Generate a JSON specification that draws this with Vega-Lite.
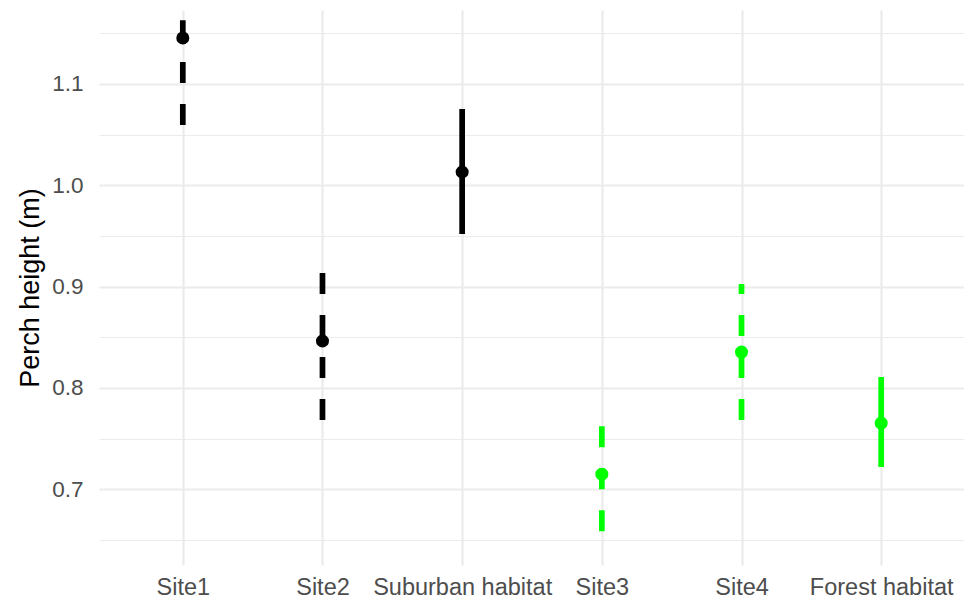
{
  "$schema": "https://vega.github.io/schema/vega-lite/v6.json",
  "width": 866,
  "height": 555,
  "autosize": {"type": "none"},
  "padding": {"left": 99, "top": 10, "right": 0, "bottom": 38},
  "background": "white",
  "config": {"view": {"stroke": null}, "font": "Liberation Sans"},
  "data": {
    "values": [
      {"site": "Site1", "habitat": "Suburban", "kind": "Site", "mean": 1.1454, "lower": 1.0595, "upper": 1.163},
      {"site": "Site2", "habitat": "Suburban", "kind": "Site", "mean": 0.8463, "lower": 0.7683, "upper": 0.9133},
      {"site": "Suburban habitat", "habitat": "Suburban", "kind": "Habitat", "mean": 1.0131, "lower": 0.9519, "upper": 1.0753},
      {"site": "Site3", "habitat": "Forest", "kind": "Site", "mean": 0.7148, "lower": 0.6585, "upper": 0.7624},
      {"site": "Site4", "habitat": "Forest", "kind": "Site", "mean": 0.8354, "lower": 0.7683, "upper": 0.9026},
      {"site": "Forest habitat", "habitat": "Forest", "kind": "Habitat", "mean": 0.7653, "lower": 0.7219, "upper": 0.8108}
    ]
  },
  "encoding": {
    "x": {
      "field": "site",
      "type": "nominal",
      "sort": ["Site1", "Site2", "Suburban habitat", "Site3", "Site4", "Forest habitat"],
      "scale": {"type": "point", "padding": 0.6},
      "axis": {
        "title": null,
        "labelAngle": 0,
        "grid": true,
        "gridColor": "#EBEBEB",
        "gridWidth": 2.2,
        "ticks": false,
        "domain": false,
        "labelFontSize": 23.5,
        "labelColor": "#4D4D4D",
        "labelPadding": 10
      }
    },
    "color": {
      "field": "habitat",
      "type": "nominal",
      "scale": {"domain": ["Suburban", "Forest"], "range": ["#000000", "#00FF00"]},
      "legend": null
    }
  },
  "layer": [
    {
      "mark": {"type": "rule", "strokeWidth": 5.7},
      "encoding": {
        "y": {
          "field": "lower",
          "type": "quantitative",
          "scale": {"domain": [0.6252, 1.173], "nice": false, "zero": false},
          "axis": {
            "values": [0.65, 0.7, 0.75, 0.8, 0.85, 0.9, 0.95, 1.0, 1.05, 1.1, 1.15],
            "labelExpr": "abs((datum.value*20) % 2 - 1) < 0.01 ? '' : format(datum.value, '.1f')",
            "grid": true,
            "gridColor": "#EBEBEB",
            "gridWidth": {"condition": {"test": "abs((datum.value*20) % 2 - 1) < 0.01", "value": 1.2}, "value": 2.2},
            "ticks": false,
            "domain": false,
            "labelFontSize": 22.5,
            "labelColor": "#4D4D4D",
            "labelPadding": 16,
            "title": "Perch height (m)",
            "titleFontSize": 27,
            "titleFontWeight": "normal",
            "titleColor": "#000000",
            "titlePadding": 7
          }
        },
        "y2": {"field": "upper"},
        "strokeDash": {
          "field": "kind",
          "type": "nominal",
          "scale": {"domain": ["Site", "Habitat"], "range": [[21, 21], [1, 0]]},
          "legend": null
        }
      }
    },
    {
      "mark": {"type": "point", "filled": true, "size": 170, "opacity": 1},
      "encoding": {
        "y": {"field": "mean", "type": "quantitative"}
      }
    }
  ]
}
